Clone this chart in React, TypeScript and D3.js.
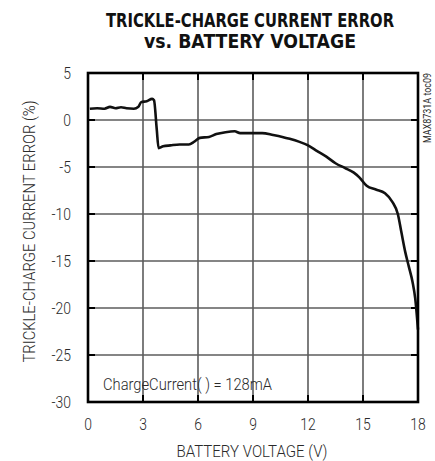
import * as d3 from 'd3';

// Battery voltage (V) vs trickle-charge current error (%)
const voltage = [
  0.1, 0.5, 0.9, 1.2, 1.5, 1.8, 2.1, 2.5, 2.75, 2.9, 3.2, 3.5, 3.6, 3.75, 3.85,
  4.1, 4.5, 5.0, 5.5, 5.8, 6.1, 6.6, 7.0, 7.5, 8.0, 8.3, 9.0, 9.5, 10.1, 10.6,
  11.0, 11.5, 12.0, 12.5, 13.0, 13.5, 14.0, 14.5, 14.8, 15.2, 15.7, 16.2, 16.6,
  16.9, 17.1, 17.3, 17.5, 17.7, 17.85, 18.0,
];
const errorPct = [
  1.2, 1.25, 1.2, 1.4, 1.25, 1.35, 1.25, 1.2, 1.4, 1.9, 2.0, 2.25, 2.1, -1.0, -3.0,
  -2.8, -2.7, -2.6, -2.6, -2.3, -1.9, -1.8, -1.5, -1.3, -1.2, -1.4, -1.4, -1.4, -1.6, -1.8,
  -2.0, -2.3, -2.7, -3.3, -3.9, -4.6, -5.1, -5.6, -6.1, -7.0, -7.4, -7.8, -8.7,
  -10.0, -12.0, -14.0, -15.6, -17.2, -19.0, -22.3,
];
const xTicks = [0, 3, 6, 9, 12, 15, 18];
const yTicks = [5, 0, -5, -10, -15, -20, -25, -30];

const titleLines = ['TRICKLE-CHARGE CURRENT ERROR', 'vs. BATTERY VOLTAGE'];
const xLabel = 'BATTERY VOLTAGE (V)';
const yLabel = 'TRICKLE-CHARGE CURRENT ERROR (%)';
const note = 'ChargeCurrent( ) = 128mA';
const tocLabel = 'MAX8731A toc09';

const WIDTH = 435;
const HEIGHT = 461;
const margin = { top: 73, right: 17, bottom: 59, left: 88 };
const plotW = WIDTH - margin.left - margin.right;
const plotH = HEIGHT - margin.top - margin.bottom;

const LIGHT = "Roboto, 'Liberation Sans', sans-serif";
const HEAVY = "'DejaVu Sans', 'Liberation Sans', sans-serif";
const TEXT_COLOR = '#2a2a2a';

export default function App() {
  const xScale = d3.scaleLinear().domain([0, 18]).range([0, plotW]);
  const yScale = d3.scaleLinear().domain([-30, 5]).range([plotH, 0]);

  const points = voltage.map((v, i) => [v, errorPct[i]] as [number, number]);
  const line = d3.line<[number, number]>()
    .x(d => xScale(d[0]))
    .y(d => yScale(d[1]))
    .curve(d3.curveMonotoneX);

  const tickLen = 7;
  const innerX = xTicks.slice(1, -1);
  const innerY = yTicks.slice(1, -1);

  return (
    <svg
      width={WIDTH}
      height={HEIGHT}
      style={{ position: 'absolute', left: 0, top: 0, background: '#fff' }}
    >
      {/* title */}
      {titleLines.map((t, i) => (
        <text
          key={t}
          x={250}
          y={27 + i * 21}
          textAnchor="middle"
          fontFamily={HEAVY}
          fontWeight="bold"
          fontSize={19}
          fill="#111"
          textLength={i === 0 ? 288 : 212}
          lengthAdjust="spacingAndGlyphs"
        >
          {t}
        </text>
      ))}

      <g transform={`translate(${margin.left}, ${margin.top})`}>
        {/* grid */}
        <g stroke="#5c5c5c" strokeWidth={1.6} fill="none">
          {innerX.map(t => (
            <line key={`gx${t}`} x1={xScale(t)} x2={xScale(t)} y1={0} y2={plotH} />
          ))}
          {innerY.map(t => (
            <line key={`gy${t}`} x1={0} x2={plotW} y1={yScale(t)} y2={yScale(t)} />
          ))}
        </g>

        {/* inner tick marks */}
        <g stroke="#000" strokeWidth={2}>
          {innerX.map(t => (
            <g key={`tx${t}`}>
              <line x1={xScale(t)} x2={xScale(t)} y1={plotH} y2={plotH - tickLen} />
              <line x1={xScale(t)} x2={xScale(t)} y1={0} y2={tickLen} />
            </g>
          ))}
          {innerY.map(t => (
            <g key={`ty${t}`}>
              <line x1={0} x2={tickLen} y1={yScale(t)} y2={yScale(t)} />
              <line x1={plotW} x2={plotW - tickLen} y1={yScale(t)} y2={yScale(t)} />
            </g>
          ))}
        </g>

        {/* data */}
        <path d={line(points) ?? ''} fill="none" stroke="#111" strokeWidth={2.6}
          strokeLinejoin="round" />

        {/* frame */}
        <rect x={0} y={0} width={plotW} height={plotH} fill="none"
          stroke="#000" strokeWidth={2.6} />

        {/* x tick labels */}
        {xTicks.map(t => (
          <text key={`lx${t}`} transform={`translate(${xScale(t)}, ${plotH + 28}) scale(0.82, 1)`}
            textAnchor="middle" fontFamily={LIGHT} fontWeight={300} fontSize={17} fill={TEXT_COLOR}>
            {t}
          </text>
        ))}

        {/* y tick labels */}
        {yTicks.map(t => (
          <text key={`ly${t}`} transform={`translate(-17, ${yScale(t) + 6}) scale(0.82, 1)`}
            textAnchor="end" fontFamily={LIGHT} fontWeight={300} fontSize={17} fill={TEXT_COLOR}>
            {t}
          </text>
        ))}

        {/* axis titles */}
        <text x={plotW / 2 - 1} y={plotH + 55} textAnchor="middle"
          fontFamily={LIGHT} fontWeight={300} fontSize={17} fill={TEXT_COLOR}
          textLength={151} lengthAdjust="spacingAndGlyphs">
          {xLabel}
        </text>
        <text transform={`translate(-53, ${plotH / 2 - 6}) rotate(-90)`} textAnchor="middle"
          fontFamily={LIGHT} fontWeight={300} fontSize={17} fill={TEXT_COLOR}
          textLength={262} lengthAdjust="spacingAndGlyphs">
          {yLabel}
        </text>

        {/* annotation */}
        <text x={15} y={yScale(-28.7)} fontFamily={LIGHT} fontWeight={300} fontSize={17}
          fill={TEXT_COLOR} textLength={169} lengthAdjust="spacingAndGlyphs">
          {note}
        </text>
      </g>

      {/* figure code */}
      <text transform="translate(431, 143) rotate(-90)" fontFamily={LIGHT} fontSize={11}
        fill={TEXT_COLOR} textLength={70} lengthAdjust="spacingAndGlyphs">
        {tocLabel}
      </text>
    </svg>
  );
}
